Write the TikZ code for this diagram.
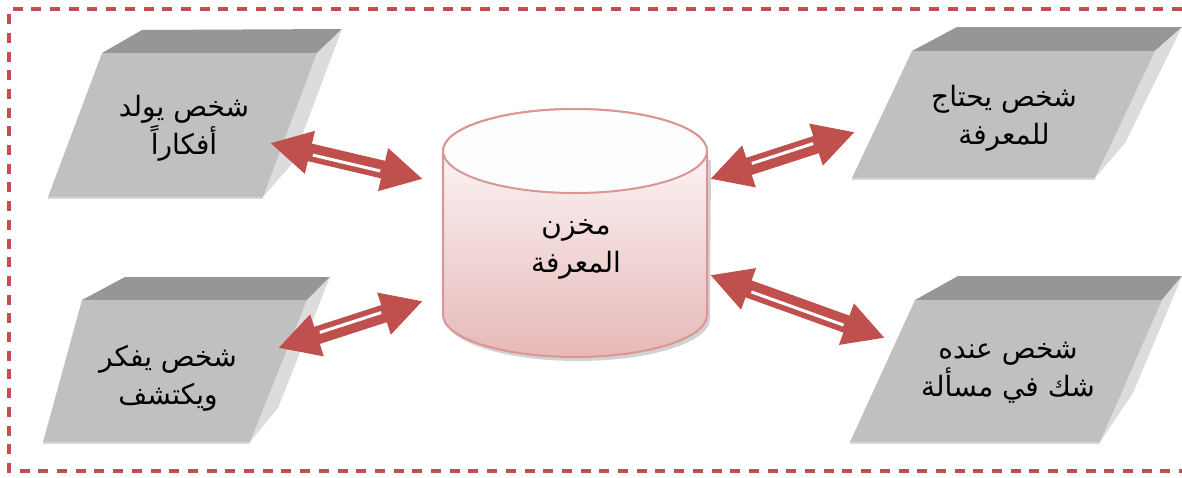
\documentclass[tikz,border=0pt]{standalone}
\usepackage{fontspec}
\newfontfamily\arabicfont[Script=Arabic]{DejaVu Sans}
\TeXXeTstate=1
\usetikzlibrary{arrows.meta,calc}
\definecolor{cred}{HTML}{C0504D}
\definecolor{cylborder}{HTML}{D99694}
\definecolor{cylpink}{HTML}{E6B9B8}
\definecolor{boxfront}{HTML}{C0C0C0}
\definecolor{boxtop}{HTML}{969696}
\definecolor{boxside}{HTML}{DCDCDC}
\tikzset{
  frontface/.style={fill=boxfront},
  topface/.style={fill=boxtop},
  sideface/.style={fill=boxside},
  boxshadow/.style={draw=black!15, line width=1.5pt},
  lbl/.style={font=\arabicfont\fontsize{28}{38}\selectfont, align=center, text=black, inner sep=0pt},
  dblarrow/.style={draw=cred, line width=18pt, {Triangle[length=41pt,width=41pt]}-{Triangle[length=41pt,width=41pt]}},
  wline/.style={draw=white, line width=3pt, shorten <=44pt, shorten >=44pt},
  frameline/.style={draw=cred, line width=3.2pt, dash pattern=on 10pt off 8.7pt}
}
\begin{document}
\begin{tikzpicture}[x=1pt,y=-1pt]
\useasboundingbox (0,0) rectangle (1182,477);
% frame
\draw[frameline] (1182,9) -- (9,9) -- (9,471) -- (1182,471);

% box 1 (top-left)
\draw[boxshadow] (48,198) -- (263,198);
\fill[topface] (102,53) -- (142,30) -- (342,29) -- (317,53) -- cycle;
\fill[sideface] (317,53) -- (342,29) -- (291,165) -- (263,197) -- cycle;
\fill[frontface] (102,53) -- (317,53) -- (263,197) -- (48,197) -- cycle;
\node[lbl] (t1) at (184,128) {\beginR شخص يولد\endR\\\beginR أفكاراً\endR};

% box 2 (top-right)
\draw[boxshadow] (852,179) -- (1095,179);
\fill[topface] (912,51) -- (957,27) -- (1182,27) -- (1155,51) -- cycle;
\fill[sideface] (1155,51) -- (1182,27) -- (1125,143) -- (1095,178) -- cycle;
\fill[frontface] (912,51) -- (1155,51) -- (1095,178) -- (852,178) -- cycle;
\node[lbl] (t2) at (1004,118) {\beginR شخص يحتاج\endR\\\beginR للمعرفة\endR};

% box 3 (bottom-left)
\draw[boxshadow] (43,443) -- (250,443);
\fill[topface] (82,300) -- (125,277) -- (330,277) -- (307,300) -- cycle;
\fill[sideface] (307,300) -- (330,277) -- (278,408) -- (250,442) -- cycle;
\fill[frontface] (82,300) -- (307,300) -- (250,442) -- (43,442) -- cycle;
\node[lbl] (t3) at (168,378) {\beginR شخص يفكر\endR\\\beginR ويكتشف\endR};

% box 4 (bottom-right)
\draw[boxshadow] (850,443) -- (1100,443);
\fill[topface] (915,300) -- (958,276) -- (1182,276) -- (1162,300) -- cycle;
\fill[sideface] (1162,300) -- (1182,276) -- (1133,393) -- (1100,442) -- cycle;
\fill[frontface] (915,300) -- (1162,300) -- (1100,442) -- (850,442) -- cycle;
\node[lbl] (t4) at (1008,373) {\beginR شخص عنده\endR\\\beginR شك في مسألة\endR};

% cylinder
\fill[black!35, opacity=0.5] (446,160) -- (446,319) arc[start angle=180,end angle=0,x radius=132,y radius=42] -- (711,160) -- cycle;
\shade[top color=white, bottom color=cylpink, draw=cylborder, line width=2pt]
  (443,151) -- (443,315) arc[start angle=180,end angle=0,x radius=132,y radius=42]
  -- (707,151) arc[start angle=0,end angle=-180,x radius=132,y radius=42] -- cycle;
\draw[cylborder, line width=2pt, fill=white!97!cylpink] (575,151) ellipse [x radius=132, y radius=42];
\node[lbl] (store) at (576,249) {\beginR مخزن\endR\\\beginR المعرفة\endR};

% arrows
\coordinate (a1s) at (270,143); \coordinate (a1e) at (423,179);
\coordinate (a2s) at (710,179); \coordinate (a2e) at (855,132);
\coordinate (a3s) at (278,348); \coordinate (a3e) at (423,301);
\coordinate (a4s) at (710,275); \coordinate (a4e) at (885,338);
\draw[dblarrow] (a1s) -- (a1e);
\draw[wline, transform canvas={yshift=-2pt}] (a1s) -- (a1e);
\draw[dblarrow] (a2s) -- (a2e);
\draw[wline, transform canvas={yshift=2pt}] (a2s) -- (a2e);
\draw[dblarrow] (a3s) -- (a3e);
\draw[wline, transform canvas={yshift=2pt}] (a3s) -- (a3e);
\draw[dblarrow] (a4s) -- (a4e);
\draw[wline, transform canvas={yshift=-2pt}] (a4s) -- (a4e);
\end{tikzpicture}
\end{document}
